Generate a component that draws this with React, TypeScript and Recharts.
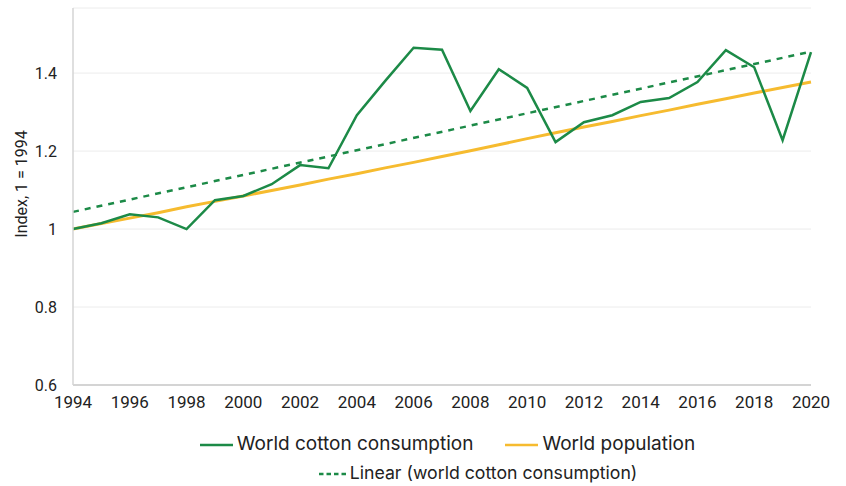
import { LineChart, Line, XAxis, YAxis, CartesianGrid } from 'recharts';

const years = [
  1994, 1995, 1996, 1997, 1998, 1999, 2000, 2001, 2002, 2003, 2004, 2005, 2006, 2007,
  2008, 2009, 2010, 2011, 2012, 2013, 2014, 2015, 2016, 2017, 2018, 2019, 2020,
];
const cotton = [
  1.0, 1.015, 1.038, 1.03, 1.0, 1.074, 1.085, 1.115, 1.164, 1.156, 1.292, 1.38, 1.465, 1.46,
  1.303, 1.41, 1.362, 1.223, 1.274, 1.292, 1.326, 1.336, 1.377, 1.459, 1.415, 1.228, 1.454,
];
const population = [
  1.0, 1.014, 1.028, 1.042, 1.057, 1.071, 1.085, 1.099, 1.113, 1.128, 1.142, 1.157, 1.171, 1.186,
  1.201, 1.216, 1.232, 1.247, 1.262, 1.276, 1.291, 1.305, 1.32, 1.334, 1.349, 1.363, 1.377,
];
// Excel linear trendline: straight, so only the two ends are needed
const trendStart = 1.044;
const trendEnd = 1.455;

const xTicks = [1994, 1996, 1998, 2000, 2002, 2004, 2006, 2008, 2010, 2012, 2014, 2016, 2018, 2020];
const yTicks = [0.6, 0.8, 1, 1.2, 1.4];

const GREEN = '#1c8a47';
const GOLD = '#f6bb2f';
const FONT = 'Roboto, "Noto Sans", sans-serif';
const LEGEND_FONT = 'Inter, Roboto, sans-serif';

const data = years.map((year, i) => ({
  year,
  cotton: cotton[i],
  population: population[i],
  trend: i === 0 ? trendStart : i === years.length - 1 ? trendEnd : null,
}));

function Swatch({ color, dashed }: { color: string; dashed?: boolean }) {
  const w = dashed ? 27 : 33;
  return (
    <svg width={w} height={4} style={{ marginRight: 4, verticalAlign: 'middle' }}>
      <line x1={0} y1={2} x2={w} y2={2} stroke={color} strokeWidth={2.5}
        strokeDasharray={dashed ? '4.5 3' : undefined} />
    </svg>
  );
}

// rotated axis title, sits a little above the plot's middle like the original
const YTitle = () => (
  <text x={21} y={184} transform="rotate(-90 21 184)" textAnchor="middle" dominantBaseline="central"
    fill="#222" fontSize={16} fontFamily={FONT}>
    Index, 1 = 1994
  </text>
);

export default function App() {
  return (
    <div style={{ position: 'absolute', left: 0, top: 0, width: 846, height: 486, background: '#fff', fontFamily: LEGEND_FONT }}>
      <LineChart width={846} height={420} data={data} margin={{ top: 8, right: 35, left: 0, bottom: 5 }}>
        <CartesianGrid vertical={false} stroke="#ececec" strokeWidth={1} />
        <XAxis
          dataKey="year" type="number" domain={[1994, 2020]} ticks={xTicks}
          tickLine={false} axisLine={{ stroke: '#d4d4d4', strokeWidth: 2 }}
          tick={{ fill: '#222', fontSize: 17, fontFamily: FONT }} tickMargin={5} height={30}
        />
        <YAxis
          domain={[0.6, 1.567]} ticks={yTicks} allowDataOverflow
          tickLine={false} axisLine={{ stroke: '#d4d4d4', strokeWidth: 1.5 }}
          tick={{ fill: '#222', fontSize: 16, fontFamily: FONT }} tickMargin={10} width={73}
          tickFormatter={(v: number) => String(v)}
          label={YTitle}
        />
        <Line dataKey="trend" stroke={GREEN} strokeWidth={2.5} strokeDasharray="6 6" dot={false}
          connectNulls isAnimationActive={false} />
        <Line dataKey="population" stroke={GOLD} strokeWidth={3} dot={false} isAnimationActive={false} />
        <Line dataKey="cotton" stroke={GREEN} strokeWidth={2.5} dot={false} isAnimationActive={false} />
      </LineChart>
      <div style={{ position: 'absolute', top: 429, left: 0, width: 846, textAlign: 'center', color: '#222', lineHeight: '29px' }}>
        <div style={{ paddingLeft: 49, fontSize: 19 }}>
          <span style={{ marginRight: 32 }}><Swatch color={GREEN} />World cotton consumption</span>
          <span><Swatch color={GOLD} />World population</span>
        </div>
        <div style={{ paddingLeft: 110, fontSize: 17.7 }}><Swatch color={GREEN} dashed />Linear (world cotton consumption)</div>
      </div>
    </div>
  );
}
